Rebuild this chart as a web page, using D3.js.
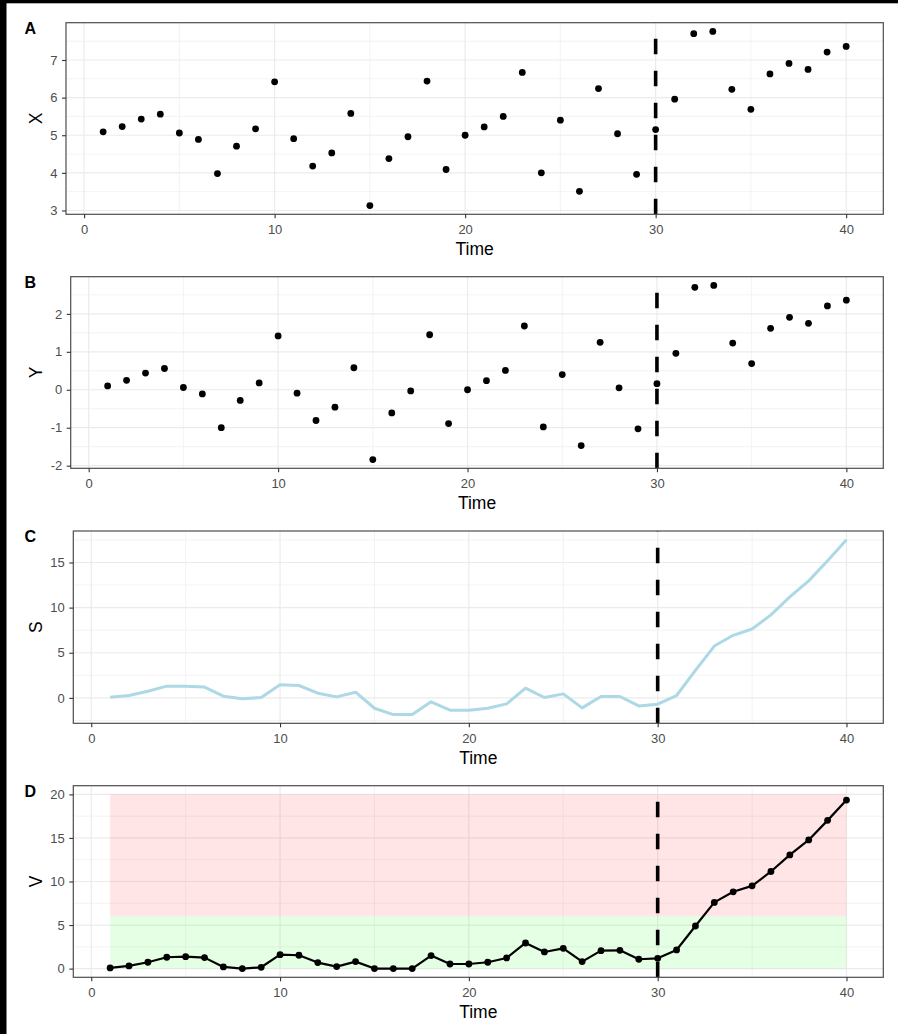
<!DOCTYPE html>
<html><head><meta charset="utf-8">
<script src="https://cdn.jsdelivr.net/npm/d3@7"></script>
<style>
body{margin:0;background:#fff}
svg{display:block}
text{font-family:"Liberation Sans",Arial,Helvetica,sans-serif}
</style>
</head><body>
<svg id="chart" width="898" height="1034"></svg>
<script>
// ---------------- data ----------------
const time = [1,2,3,4,5,6,7,8,9,10,11,12,13,14,15,16,17,18,19,20,21,22,23,24,25,26,27,28,29,30,31,32,33,34,35,36,37,38,39,40];
const xVals = [5.09,5.23,5.43,5.56,5.06,4.89,3.98,4.71,5.17,6.42,4.91,4.18,4.53,5.58,3.13,4.38,4.96,6.44,4.09,5.00,5.22,5.50,6.67,4.00,5.40,3.51,6.24,5.04,3.96,5.15,5.96,7.70,7.76,6.22,5.69,6.63,6.91,6.75,7.21,7.36];
const yVals = [0.10,0.25,0.44,0.56,0.06,-0.11,-1.00,-0.28,0.18,1.42,-0.09,-0.81,-0.46,0.58,-1.84,-0.61,-0.03,1.45,-0.89,0.00,0.24,0.51,1.68,-0.98,0.40,-1.47,1.25,0.05,-1.03,0.16,0.96,2.70,2.75,1.23,0.69,1.62,1.91,1.75,2.21,2.36];
const sVals = [0.07,0.26,0.74,1.30,1.30,1.19,0.19,-0.11,0.04,1.44,1.37,0.52,0.11,0.63,-1.15,-1.85,-1.85,-0.44,-1.37,-1.37,-1.15,-0.67,1.07,0.04,0.44,-1.11,0.15,0.15,-0.89,-0.70,0.26,3.04,5.74,6.93,7.63,9.19,11.19,12.96,15.19,17.52];
const vVals = [0.08,0.31,0.73,1.30,1.37,1.26,0.19,0.00,0.15,1.60,1.53,0.69,0.23,0.80,0.00,0.00,0.00,1.49,0.53,0.53,0.73,1.22,2.94,1.91,2.33,0.80,2.06,2.10,1.07,1.18,2.14,4.89,7.60,8.82,9.50,11.15,13.05,14.77,17.02,19.35];
const changePoint = 30;
const bandX = [1, 40];
const greenBand = [0, 6];
const redBand = [6, 20];
const xTicks = [0,10,20,30,40];
const xMinor = [5,15,25,35];
const aTicks = [3,4,5,6,7],  aMinor = [3.5,4.5,5.5,6.5,7.5];
const bTicks = [-2,-1,0,1,2], bMinor = [-1.5,-0.5,0.5,1.5,2.5];
const cTicks = [0,5,10,15],  cMinor = [-2.5,2.5,7.5,12.5,17.5];
const dTicks = [0,5,10,15,20], dMinor = [2.5,7.5,12.5,17.5];

// ---------------- layout ----------------
const svg = d3.select('#chart');
const RIGHT = 883.3;
function expand(lo, hi){ const d = (hi-lo)*0.05; return [lo-d, hi+d]; }
const xDom = expand(d3.min(time), d3.max(time));
const fmt = d => String(d);

svg.append('rect').attr('x',0).attr('y',0).attr('width',898).attr('height',1034).attr('fill','#fff');
svg.append('rect').attr('x',0).attr('y',0).attr('width',6.5).attr('height',1034).attr('fill','#000');
svg.append('rect').attr('x',0).attr('y',0).attr('width',898).attr('height',3.3).attr('fill','#000');

function panel(cfg){
  const g = svg.append('g');
  const x = d3.scaleLinear().domain(xDom).range([cfg.left, RIGHT]);
  const y = d3.scaleLinear().domain(cfg.yDom).range([cfg.bottom, cfg.top]);
  const grid = g.append('g');
  cfg.yMinor.forEach(v => grid.append('line').attr('x1',cfg.left).attr('x2',RIGHT).attr('y1',y(v)).attr('y2',y(v)).attr('stroke','#EBEBEB').attr('stroke-width',0.6));
  xMinor.forEach(v => grid.append('line').attr('x1',x(v)).attr('x2',x(v)).attr('y1',cfg.top).attr('y2',cfg.bottom).attr('stroke','#EBEBEB').attr('stroke-width',0.6));
  cfg.yTicks.forEach(v => grid.append('line').attr('x1',cfg.left).attr('x2',RIGHT).attr('y1',y(v)).attr('y2',y(v)).attr('stroke','#EBEBEB').attr('stroke-width',1.2));
  xTicks.forEach(v => grid.append('line').attr('x1',x(v)).attr('x2',x(v)).attr('y1',cfg.top).attr('y2',cfg.bottom).attr('stroke','#EBEBEB').attr('stroke-width',1.2));

  if (cfg.bands){
    g.append('rect').attr('x',x(bandX[0])).attr('width',x(bandX[1])-x(bandX[0]))
      .attr('y',y(redBand[1])).attr('height',y(redBand[0])-y(redBand[1]))
      .attr('fill','#FF0000').attr('fill-opacity',0.1);
    g.append('rect').attr('x',x(bandX[0])).attr('width',x(bandX[1])-x(bandX[0]))
      .attr('y',y(greenBand[1])).attr('height',y(greenBand[0])-y(greenBand[1]))
      .attr('fill','#00FF00').attr('fill-opacity',0.1);
  }
  const data = time.map((t,i)=>({t, v:cfg.values[i]}));
  if (cfg.line){
    g.append('path').datum(data)
      .attr('d', d3.line().x(d=>x(d.t)).y(d=>y(d.v)))
      .attr('fill','none').attr('stroke',cfg.lineColor).attr('stroke-width',cfg.lineWidth)
      .attr('stroke-linejoin','round');
  }
  if (cfg.points){
    g.selectAll('circle.pt').data(data).enter().append('circle')
      .attr('cx',d=>x(d.t)).attr('cy',d=>y(d.v)).attr('r',3.4).attr('fill','#000');
  }
  // dashed change point line, pattern from bottom
  g.append('line').attr('x1',x(changePoint)).attr('x2',x(changePoint))
    .attr('y1',cfg.bottom).attr('y2',cfg.top)
    .attr('stroke','#000').attr('stroke-width',3.6).attr('stroke-dasharray','15.5,16.5');
  // border
  g.append('rect').attr('x',cfg.left).attr('y',cfg.top).attr('width',RIGHT-cfg.left).attr('height',cfg.bottom-cfg.top)
    .attr('fill','none').attr('stroke','#4d4d4d').attr('stroke-width',1.2);
  // axes
  const ax = g.append('g').attr('transform',`translate(0,${cfg.bottom})`)
    .call(d3.axisBottom(x).tickValues(xTicks).tickSize(4).tickPadding(6.5).tickFormat(fmt));
  const ay = g.append('g').attr('transform',`translate(${cfg.left},0)`)
    .call(d3.axisLeft(y).tickValues(cfg.yTicks).tickSize(4).tickPadding(4.5).tickFormat(fmt));
  [ax, ay].forEach(a => {
    a.select('.domain').remove();
    a.selectAll('line').attr('stroke','#333').attr('stroke-width',1.1);
    a.selectAll('text').attr('fill','#4D4D4D').style('font-size','13px')
      .style('font-family','"Liberation Sans",Arial,sans-serif');
  });
  // titles
  g.append('text').attr('x',(cfg.left+RIGHT)/2).attr('y',cfg.bottom+40.7)
    .attr('text-anchor','middle').style('font-size','17.5px').attr('fill','#000').text('Time');
  g.append('text').attr('transform',`translate(41.5,${(cfg.top+cfg.bottom)/2}) rotate(-90)`)
    .attr('text-anchor','middle').style('font-size','17.5px').attr('fill','#000').text(cfg.ylabel);
  g.append('text').attr('x',24.5).attr('y',cfg.top+10.8)
    .style('font-size','16px').style('font-weight','bold').attr('fill','#000').text(cfg.tag);
}

panel({tag:'A', ylabel:'X', left:66, top:22.7, bottom:214.3,
  yDom: expand(d3.min(xVals), d3.max(xVals)), yTicks:aTicks, yMinor:aMinor,
  values:xVals, points:true});
panel({tag:'B', ylabel:'Y', left:70.7, top:276.7, bottom:468.3,
  yDom: expand(d3.min(yVals), d3.max(yVals)), yTicks:bTicks, yMinor:bMinor,
  values:yVals, points:true});
panel({tag:'C', ylabel:'S', left:73.3, top:531, bottom:723.3,
  yDom: expand(d3.min(sVals), d3.max(sVals)), yTicks:cTicks, yMinor:cMinor,
  values:sVals, line:true, lineColor:'#ADD8E6', lineWidth:3});
panel({tag:'D', ylabel:'V', left:73.3, top:785.7, bottom:977.3,
  yDom: expand(Math.min(greenBand[0], d3.min(vVals)), Math.max(redBand[1], d3.max(vVals))), yTicks:dTicks, yMinor:dMinor,
  values:vVals, bands:true, line:true, lineColor:'#000', lineWidth:2.2, points:true});
</script>
</body></html>
